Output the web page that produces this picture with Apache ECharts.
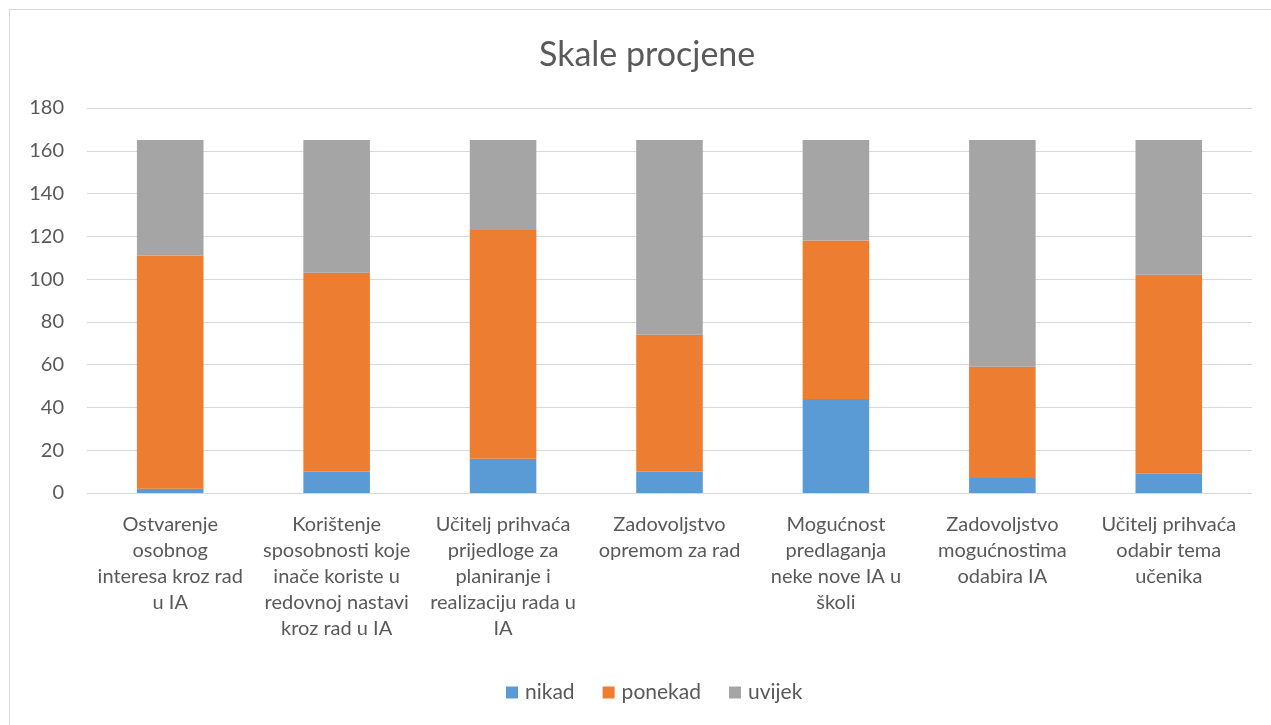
<!DOCTYPE html>
<html>
<head>
<meta charset="utf-8">
<script src="https://cdn.jsdelivr.net/npm/echarts@6/dist/echarts.min.js"></script>
<style>
html,body{margin:0;padding:0;background:#fff;overflow:hidden;}
#frame{position:absolute;left:9px;top:9px;width:1300px;height:760px;border:1px solid #d9d9d9;box-sizing:border-box;}
#chart{position:absolute;left:0;top:0;width:1271px;height:725px;}
</style>
</head>
<body>
<div id="frame"></div>
<div id="chart"></div>
<script>
const categories = [
  "Ostvarenje\nosobnog\ninteresa kroz rad\nu IA",
  "Korištenje\nsposobnosti koje\ninače koriste u\nredovnoj nastavi\nkroz rad u IA",
  "Učitelj prihvaća\nprijedloge za\nplaniranje i\nrealizaciju rada u\nIA",
  "Zadovoljstvo\nopremom za rad",
  "Mogućnost\npredlaganja\nneke nove IA u\nškoli",
  "Zadovoljstvo\nmogućnostima\nodabira IA",
  "Učitelj prihvaća\nodabir tema\nučenika"
];
const nikad   = [2, 10, 16, 10, 44, 7, 9];
const ponekad = [109, 93, 107, 64, 74, 52, 93];
const uvijek  = [54, 62, 42, 91, 47, 106, 63];
const seriesNames = ["nikad", "ponekad", "uvijek"];
const colors = ["#5B9BD5", "#ED7D31", "#A5A5A5"];

const font = "Lato, 'Open Sans', sans-serif";
const chart = echarts.init(document.getElementById('chart'), null, {renderer: 'canvas'});
const values = [nikad, ponekad, uvijek];
chart.setOption({
  animation: false,
  backgroundColor: 'transparent',
  title: {
    text: 'Skale procjene',
    left: 534,
    top: 33,
    textStyle: {fontFamily: font, fontSize: 34, fontWeight: 'normal', color: '#595959'}
  },
  legend: {
    bottom: 17,
    left: 501,
    itemWidth: 12,
    itemHeight: 12,
    itemGap: 28,
    icon: 'rect',
    textStyle: {fontFamily: font, fontSize: 21, color: '#595959', padding: [0, 0, 0, 2]},
    data: seriesNames
  },
  grid: {left: 87, right: 19, top: 108, bottom: 232, containLabel: false},
  xAxis: {
    type: 'category',
    data: categories,
    axisTick: {show: false},
    axisLine: {lineStyle: {color: '#d9d9d9', width: 1}},
    axisLabel: {
      interval: 0,
      margin: 19,
      fontFamily: font,
      fontSize: 20,
      lineHeight: 26,
      color: '#595959',
      align: 'center'
    }
  },
  yAxis: {
    type: 'value',
    min: 0,
    max: 180,
    interval: 20,
    axisLine: {show: false},
    axisTick: {show: false},
    splitLine: {lineStyle: {color: '#d9d9d9', width: 1}},
    axisLabel: {fontFamily: font, fontSize: 20, color: '#595959', margin: 23}
  },
  series: seriesNames.map((n, i) => ({
    name: n,
    type: 'bar',
    stack: 'total',
    barWidth: '40%',
    itemStyle: {color: colors[i]},
    data: values[i]
  }))
});
</script>
</body>
</html>
